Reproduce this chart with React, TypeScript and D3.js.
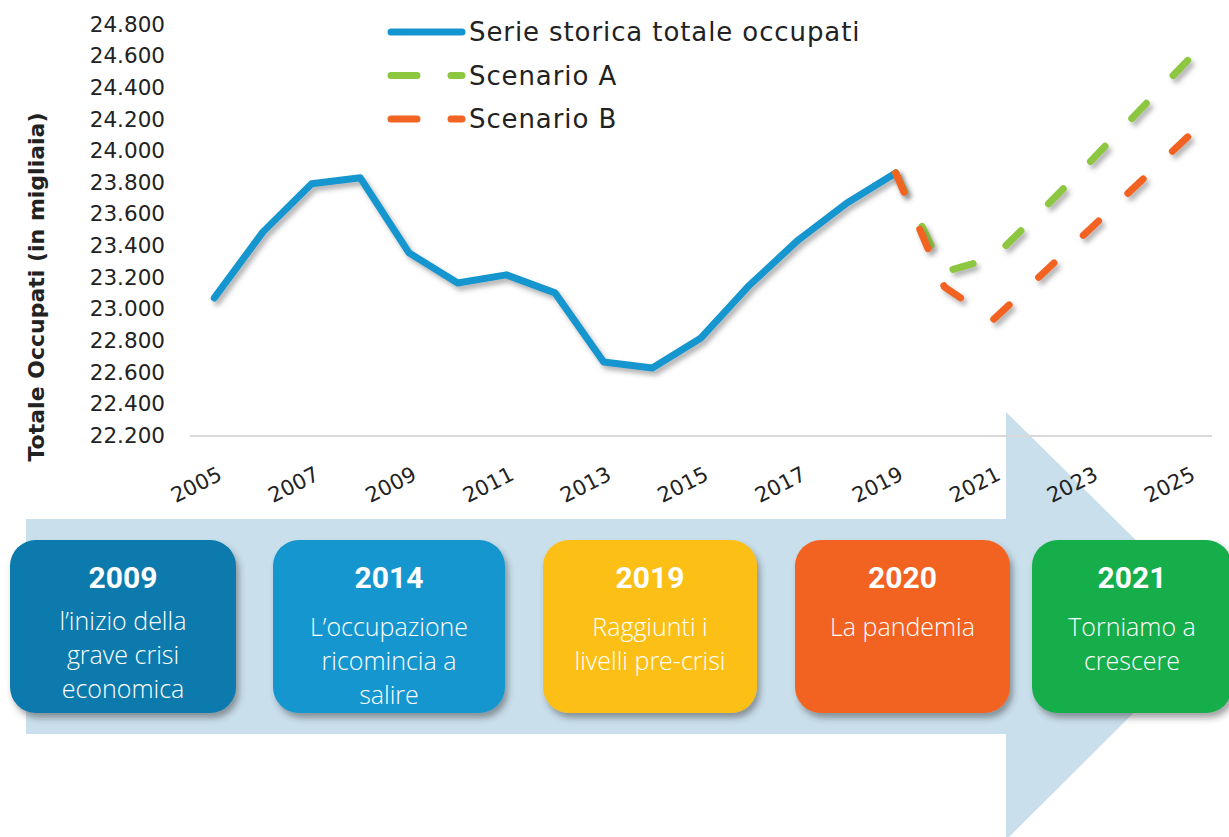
import React from "react";
import * as d3 from "d3";

const years = d3.range(2005, 2026).map(String);
const histYears = ["2005","2006","2007","2008","2009","2010","2011","2012","2013","2014","2015","2016","2017","2018","2019"];
const histValues = [23067, 23485, 23789, 23827, 23352, 23162, 23213, 23099, 22662, 22624, 22814, 23149, 23434, 23668, 23858];
const scenYears = ["2019","2020","2021","2022","2023","2024","2025"];
const scenA = [23858, 23232, 23320, 23620, 23930, 24250, 24570];
const scenB = [23858, 23137, 22928, 23215, 23505, 23795, 24086];
const yTicks = d3.range(22200, 24801, 200);
const xTickLabels = ["2005","2007","2009","2011","2013","2015","2017","2019","2021","2023","2025"];
const legendLabels = ["Serie storica totale occupati", "Scenario A", "Scenario B"];
const boxYears = ["2009", "2014", "2019", "2020", "2021"];
const boxTexts = [
  ["l\u2019inizio della", "grave crisi", "economica"],
  ["L\u2019occupazione", "ricomincia a", "salire"],
  ["Raggiunti i", "livelli pre-crisi"],
  ["La pandemia"],
  ["Torniamo a", "crescere"],
];
const boxColors = ["#077aad", "#1296cf", "#fcbf17", "#f26423", "#16ad4c"];
const boxLayout = [
  { x: 10, w: 226, ty: 630 },
  { x: 273, w: 232, ty: 636 },
  { x: 543, w: 214, ty: 636 },
  { x: 795, w: 215, ty: 636 },
  { x: 1032, w: 200, ty: 636 },
];

const BLUE = "#1296cf";
const GREEN = "#8dc63f";
const ORANGE = "#f26423";
const ARROW = "#c9dfec";

const itLocale = d3.formatLocale({ decimal: ",", thousands: ".", grouping: [3], currency: ["€", ""] });
const fmt = itLocale.format(",.0f");

function fitDash(pts: [number, number][], dash: number, period: number): string {
  let L = 0;
  for (let i = 1; i < pts.length; i++) L += Math.hypot(pts[i][0] - pts[i - 1][0], pts[i][1] - pts[i - 1][1]);
  const n = Math.max(1, Math.round((L - dash) / period));
  const p = (L - dash) / n;
  return `${dash} ${p - dash}`;
}

export default function App() {
  const W = 1229, H = 837;
  const x = d3.scaleBand<string>().domain(years).range([190, 1212]);
  const cx = (yr: string) => (x(yr) as number) + x.bandwidth() / 2;
  const y = d3.scaleLinear().domain([22200, 24800]).range([435, 24]);

  const line = d3.line<[number, number]>();
  const histPts = histYears.map((yr, i) => [cx(yr), y(histValues[i])] as [number, number]);
  const aPts = scenYears.map((yr, i) => [cx(yr), y(scenA[i])] as [number, number]);
  const bPts = scenYears.map((yr, i) => [cx(yr), y(scenB[i])] as [number, number]);

  const font = "'DejaVu Sans', sans-serif";
  const arrowPts = [[26, 519], [1006, 519], [1006, 412], [1222, 625], [1006, 840], [1006, 734], [26, 734]];

  return (
    <div style={{ position: "absolute", left: 0, top: 0 }}>
      <svg width={W} height={H} style={{ display: "block", background: "#fff" }}>
        <defs>
          <filter id="ls" x="-10%" y="-10%" width="120%" height="130%">
            <feDropShadow dx="3" dy="4" stdDeviation="2.5" floodColor="#555" floodOpacity="0.45" />
          </filter>
          <filter id="bs" x="-10%" y="-10%" width="125%" height="130%">
            <feDropShadow dx="3" dy="5" stdDeviation="3" floodColor="#333" floodOpacity="0.45" />
          </filter>
        </defs>
        {/* arrow background */}
        <polygon points={arrowPts.map(p => p.join(",")).join(" ")} fill={ARROW} />

        {/* baseline grid */}
        <line x1={190} x2={1212} y1={y(22200) + 1} y2={y(22200) + 1} stroke="#d9d9d9" strokeWidth={2} />

        {/* y ticks */}
        {yTicks.map(t => (
          <text key={t} x={165} y={y(t)} dy="0.36em" textAnchor="end" fontFamily={font} fontSize={21.5} fill="#222">
            {fmt(t)}
          </text>
        ))}
        <text transform={`translate(44,287) rotate(-90)`} textAnchor="middle" fontFamily={font} fontWeight="bold" fontSize={22} fill="#222">
          Totale Occupati (in migliaia)
        </text>

        {/* x ticks */}
        {xTickLabels.map(t => (
          <text key={t} transform={`translate(${cx(t) + 9},479) rotate(-27)`} textAnchor="end" fontFamily={font} fontSize={21} fill="#222">
            {t}
          </text>
        ))}

        {/* lines */}
        <path d={line(histPts)!} fill="none" stroke={BLUE} strokeWidth={7} strokeLinejoin="round" strokeLinecap="round" filter="url(#ls)" />
        <path d={line(aPts)!} fill="none" stroke={GREEN} strokeWidth={7} strokeLinecap="round" strokeLinejoin="round" strokeDasharray={fitDash(aPts, 21, 58)} filter="url(#ls)" />
        <path d={line(bPts)!} fill="none" stroke={ORANGE} strokeWidth={7} strokeLinecap="round" strokeLinejoin="round" strokeDasharray={fitDash(bPts, 21, 58)} filter="url(#ls)" />

        {/* legend */}
        {legendLabels.map((lab, i) => {
          const ly = 32 + i * 43.5;
          const col = [BLUE, GREEN, ORANGE][i];
          return (
            <g key={lab}>
              <line x1={391} x2={462} y1={ly} y2={ly} stroke={col} strokeWidth={7} strokeLinecap="round"
                strokeDasharray={i === 0 ? undefined : "26 34"} />
              <text x={469} y={ly} dy="0.36em" fontFamily={font} fontSize={26} letterSpacing={0.9} fill="#222">{lab}</text>
            </g>
          );
        })}

        {/* timeline boxes */}
        {boxYears.map((yr, i) => {
          const b = boxLayout[i];
          const mx = b.x + b.w / 2;
          return (
            <g key={yr}>
              <rect x={b.x} y={540} width={b.w} height={173} rx={26} ry={26} fill={boxColors[i]} filter="url(#bs)" />
              <text x={mx} y={588} textAnchor="middle" fontFamily="Roboto, sans-serif" fontWeight="bold" fontSize={30} fill="#fff">{yr}</text>
              {boxTexts[i].map((ln, j) => (
                <text key={j} x={mx} y={b.ty + j * 34} textAnchor="middle" fontFamily="'Open Sans', sans-serif" fontWeight={300} fontSize={25} fill="#fff">{ln}</text>
              ))}
            </g>
          );
        })}
      </svg>
    </div>
  );
}
